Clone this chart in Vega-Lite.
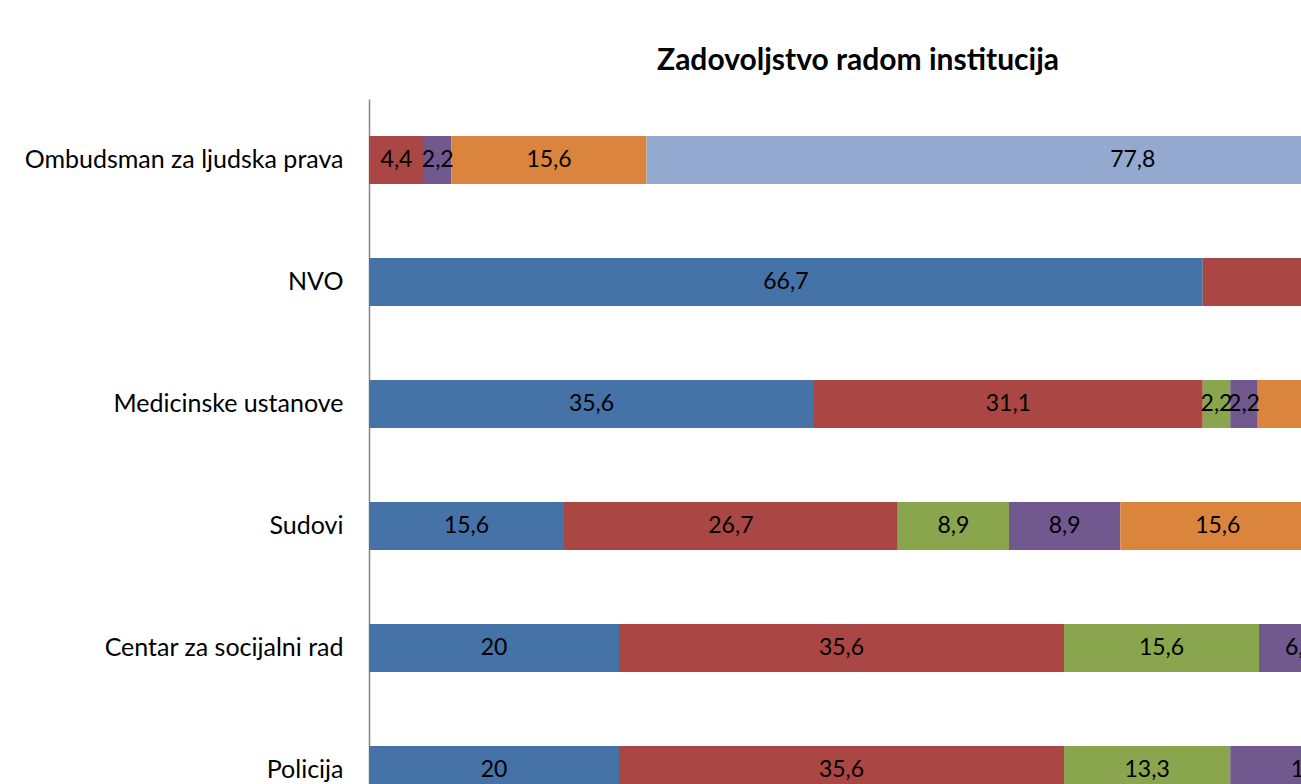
{
  "$schema": "https://vega.github.io/schema/vega-lite/v6.json",
  "width": 932,
  "height": 685,
  "autosize": "none",
  "padding": {"left": 369, "top": 99, "right": 0, "bottom": 0},
  "background": "white",
  "config": {
    "font": "Lato",
    "view": {"stroke": null},
    "locale": {"number": {"decimal": ",", "thousands": ".", "grouping": [3], "currency": ["", " €"]}}
  },
  "title": {
    "text": "Zadovoljstvo radom institucija",
    "font": "Lato",
    "fontSize": 30,
    "fontWeight": "bold",
    "color": "#000000",
    "anchor": "middle",
    "frame": "group",
    "dx": 23,
    "offset": 23
  },
  "data": {
    "values": [
      {"institucija": "Ombudsman za ljudska prava", "ocjena": "Uglavnom zadovoljan", "red": 2, "procenat": 4.4},
      {"institucija": "Ombudsman za ljudska prava", "ocjena": "Uglavnom nezadovoljan", "red": 4, "procenat": 2.2},
      {"institucija": "Ombudsman za ljudska prava", "ocjena": "Potpuno nezadovoljan", "red": 5, "procenat": 15.6},
      {"institucija": "Ombudsman za ljudska prava", "ocjena": "Nije imao/la kontakt", "red": 6, "procenat": 77.8},
      {"institucija": "NVO", "ocjena": "Potpuno zadovoljan", "red": 1, "procenat": 66.7},
      {"institucija": "NVO", "ocjena": "Uglavnom zadovoljan", "red": 2, "procenat": 22.2},
      {"institucija": "NVO", "ocjena": "Potpuno nezadovoljan", "red": 5, "procenat": 4.4},
      {"institucija": "NVO", "ocjena": "Nije imao/la kontakt", "red": 6, "procenat": 6.7},
      {"institucija": "Medicinske ustanove", "ocjena": "Potpuno zadovoljan", "red": 1, "procenat": 35.6},
      {"institucija": "Medicinske ustanove", "ocjena": "Uglavnom zadovoljan", "red": 2, "procenat": 31.1},
      {"institucija": "Medicinske ustanove", "ocjena": "Ni zadovoljan ni nezadovoljan", "red": 3, "procenat": 2.2},
      {"institucija": "Medicinske ustanove", "ocjena": "Uglavnom nezadovoljan", "red": 4, "procenat": 2.2},
      {"institucija": "Medicinske ustanove", "ocjena": "Potpuno nezadovoljan", "red": 5, "procenat": 17.8},
      {"institucija": "Medicinske ustanove", "ocjena": "Nije imao/la kontakt", "red": 6, "procenat": 11.1},
      {"institucija": "Sudovi", "ocjena": "Potpuno zadovoljan", "red": 1, "procenat": 15.6},
      {"institucija": "Sudovi", "ocjena": "Uglavnom zadovoljan", "red": 2, "procenat": 26.7},
      {"institucija": "Sudovi", "ocjena": "Ni zadovoljan ni nezadovoljan", "red": 3, "procenat": 8.9},
      {"institucija": "Sudovi", "ocjena": "Uglavnom nezadovoljan", "red": 4, "procenat": 8.9},
      {"institucija": "Sudovi", "ocjena": "Potpuno nezadovoljan", "red": 5, "procenat": 15.6},
      {"institucija": "Sudovi", "ocjena": "Nije imao/la kontakt", "red": 6, "procenat": 24.4},
      {"institucija": "Centar za socijalni rad", "ocjena": "Potpuno zadovoljan", "red": 1, "procenat": 20},
      {"institucija": "Centar za socijalni rad", "ocjena": "Uglavnom zadovoljan", "red": 2, "procenat": 35.6},
      {"institucija": "Centar za socijalni rad", "ocjena": "Ni zadovoljan ni nezadovoljan", "red": 3, "procenat": 15.6},
      {"institucija": "Centar za socijalni rad", "ocjena": "Uglavnom nezadovoljan", "red": 4, "procenat": 6.7},
      {"institucija": "Centar za socijalni rad", "ocjena": "Potpuno nezadovoljan", "red": 5, "procenat": 8.9},
      {"institucija": "Centar za socijalni rad", "ocjena": "Nije imao/la kontakt", "red": 6, "procenat": 13.3},
      {"institucija": "Policija", "ocjena": "Potpuno zadovoljan", "red": 1, "procenat": 20},
      {"institucija": "Policija", "ocjena": "Uglavnom zadovoljan", "red": 2, "procenat": 35.6},
      {"institucija": "Policija", "ocjena": "Ni zadovoljan ni nezadovoljan", "red": 3, "procenat": 13.3},
      {"institucija": "Policija", "ocjena": "Uglavnom nezadovoljan", "red": 4, "procenat": 13.3},
      {"institucija": "Policija", "ocjena": "Potpuno nezadovoljan", "red": 5, "procenat": 8.9},
      {"institucija": "Policija", "ocjena": "Nije imao/la kontakt", "red": 6, "procenat": 8.9}
    ]
  },
  "encoding": {
    "y": {
      "field": "institucija",
      "type": "nominal",
      "sort": null,
      "title": null,
      "scale": {"range": [0, 732], "paddingInner": 0.6066, "paddingOuter": 0.3033},
      "axis": {
        "ticks": false,
        "labelPadding": 26,
        "labelFont": "Lato",
        "labelFontSize": 25,
        "labelColor": "#000000",
        "labelLimit": 400,
        "domainColor": "#868686",
        "domainWidth": 1.5
      }
    },
    "x": {
      "field": "procenat",
      "type": "quantitative",
      "stack": "zero",
      "scale": {"domain": [0, 100], "range": [0, 1250], "nice": false},
      "axis": null
    },
    "order": {"field": "red", "type": "quantitative"}
  },
  "layer": [
    {
      "mark": {"type": "bar", "clip": true},
      "encoding": {
        "color": {
          "field": "ocjena",
          "type": "nominal",
          "scale": {
            "domain": ["Potpuno zadovoljan", "Uglavnom zadovoljan", "Ni zadovoljan ni nezadovoljan", "Uglavnom nezadovoljan", "Potpuno nezadovoljan", "Nije imao/la kontakt"],
            "range": ["#4572A7", "#AA4643", "#89A54E", "#71588F", "#DB843D", "#93A9CF"]
          },
          "legend": null
        }
      }
    },
    {
      "mark": {"type": "text", "clip": true, "font": "Lato", "fontSize": 23, "color": "#000000", "baseline": "middle", "align": "center"},
      "encoding": {
        "x": {
          "field": "procenat",
          "type": "quantitative",
          "stack": "zero",
          "bandPosition": 0.5
        },
        "text": {"field": "procenat", "type": "quantitative", "format": "~g"}
      }
    }
  ]
}
